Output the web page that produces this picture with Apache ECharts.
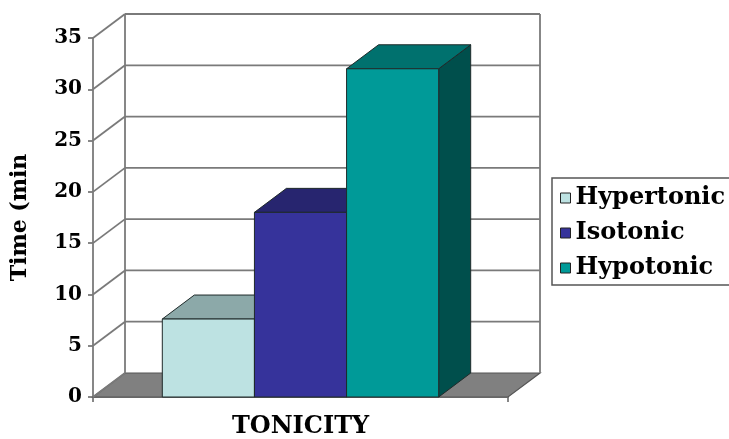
<!DOCTYPE html>
<html>
<head>
<meta charset="utf-8">
<script src="https://cdn.jsdelivr.net/npm/echarts@6/dist/echarts.min.js"></script>
<style>
  html, body { margin: 0; padding: 0; background: #fff; }
  #chart { width: 729px; height: 439px; }
</style>
</head>
<body>
<div id="chart"></div>
<script>
// data
const categories = ['TONICITY']
const seriesNames = ['Hypertonic', 'Isotonic', 'Hypotonic']
const seriesValues = [7.6, 18, 32]
const yTicks = [0, 5, 10, 15, 20, 25, 30, 35]

// face colours: front, top, side
const faceColors = [
  ['#bde2e2', '#8ca9a9', '#6e8c8c'],
  ['#36339b', '#27256f', '#1d1b55'],
  ['#009a98', '#00716e', '#004f4c']
]

const FONT = 'DejaVu Serif'
const DX = 32, DY = -24       // depth offset of the 3d box
const gridLine = '#7a7a7a'

const chart = echarts.init(document.getElementById('chart'))

// back wall, side wall and floor
function renderWalls(params, api) {
  const cs = params.coordSys
  const L = cs.x, R = cs.x + cs.width
  const base = api.coord([0, 0])[1]
  const children = []
  children.push({
    type: 'polygon',
    shape: { points: [[L, base], [R, base], [R + DX, base + DY], [L + DX, base + DY]] },
    style: { fill: '#808080', stroke: '#555', lineWidth: 1.2 }
  })
  yTicks.forEach(v => {
    const y = api.coord([0, v])[1]
    if (v > 0) {
      children.push({ type: 'line', shape: { x1: L + DX, y1: y + DY, x2: R + DX, y2: y + DY },
        style: { stroke: gridLine, lineWidth: 1.8 } })
    }
    children.push({ type: 'line', shape: { x1: L, y1: y, x2: L + DX, y2: y + DY },
      style: { stroke: gridLine, lineWidth: 1.8 } })
  })
  const top = api.coord([0, yTicks[yTicks.length - 1]])[1]
  children.push({ type: 'line', shape: { x1: L + DX, y1: top + DY, x2: L + DX, y2: base + DY },
    style: { stroke: gridLine, lineWidth: 1.8 } })
  children.push({ type: 'line', shape: { x1: R + DX, y1: top + DY, x2: R + DX, y2: base + DY },
    style: { stroke: gridLine, lineWidth: 1.8 } })
  return { type: 'group', children }
}

// one 3d column per series
function makeBarRenderer(idx) {
  return function (params, api) {
    const c = api.coord([api.value(0), api.value(1)])
    const base = api.coord([api.value(0), 0])[1]
    const band = api.size([1, 0])[0]
    const w = band * 0.222
    const x0 = c[0] - 1.5 * w + idx * w
    const yt = c[1]
    const col = faceColors[idx]
    const edge = { stroke: '#1f2a2a', lineWidth: 1 }
    return {
      type: 'group',
      children: [
        { type: 'polygon',
          shape: { points: [[x0 + w, yt], [x0 + w + DX, yt + DY], [x0 + w + DX, base + DY], [x0 + w, base]] },
          style: Object.assign({ fill: col[2] }, edge) },
        { type: 'polygon',
          shape: { points: [[x0, yt], [x0 + w, yt], [x0 + w + DX, yt + DY], [x0 + DX, yt + DY]] },
          style: Object.assign({ fill: col[1] }, edge) },
        { type: 'rect',
          shape: { x: x0, y: yt, width: w, height: base - yt },
          style: Object.assign({ fill: col[0] }, edge) }
      ]
    }
  }
}

const series = [{
  type: 'custom',
  name: 'walls',
  z: 1,
  silent: true,
  renderItem: renderWalls,
  data: [[0, 0]]
}]
seriesNames.forEach((name, i) => {
  series.push({
    type: 'custom',
    name: name,
    z: 2 + i,
    renderItem: makeBarRenderer(i),
    itemStyle: { color: faceColors[i][0], borderColor: '#222', borderWidth: 1 },
    data: [[0, seriesValues[i]]]
  })
})

chart.setOption({
  animation: false,
  backgroundColor: '#fff',
  grid: { left: 93, right: 221, top: 38, bottom: 41 },
  legend: {
    data: seriesNames,
    orient: 'vertical',
    left: 552,
    top: 178,
    itemWidth: 10,
    itemHeight: 10,
    itemGap: 11,
    icon: 'rect',
    padding: [8, 40, 5, 8],
    borderColor: '#555',
    borderWidth: 1.5,
    itemStyle: { borderColor: '#222', borderWidth: 1 },
    textStyle: { fontFamily: FONT, fontWeight: 'bold', fontSize: 24, color: '#000', lineHeight: 24 }
  },
  xAxis: {
    type: 'category',
    data: categories,
    axisLine: { lineStyle: { color: gridLine, width: 1.8 } },
    axisTick: { show: true, length: 5, lineStyle: { color: gridLine, width: 1.8 } },
    axisLabel: { margin: 18, fontFamily: FONT, fontWeight: 'bold', fontSize: 24, color: '#000' },
    splitLine: { show: false }
  },
  yAxis: {
    type: 'value',
    min: 0,
    max: 35,
    interval: 5,
    name: 'Time (min',
    nameLocation: 'middle',
    nameRotate: 90,
    nameGap: 62,
    nameTextStyle: { fontFamily: FONT, fontWeight: 'bold', fontSize: 22, color: '#000' },
    axisLine: { show: true, lineStyle: { color: gridLine, width: 1.8 } },
    axisTick: { show: true, length: 5, lineStyle: { color: gridLine, width: 1.8 } },
    axisLabel: { margin: 11, fontFamily: FONT, fontWeight: 'bold', fontSize: 20, color: '#000' },
    splitLine: { show: false }
  },
  series: series
})
</script>
</body>
</html>
